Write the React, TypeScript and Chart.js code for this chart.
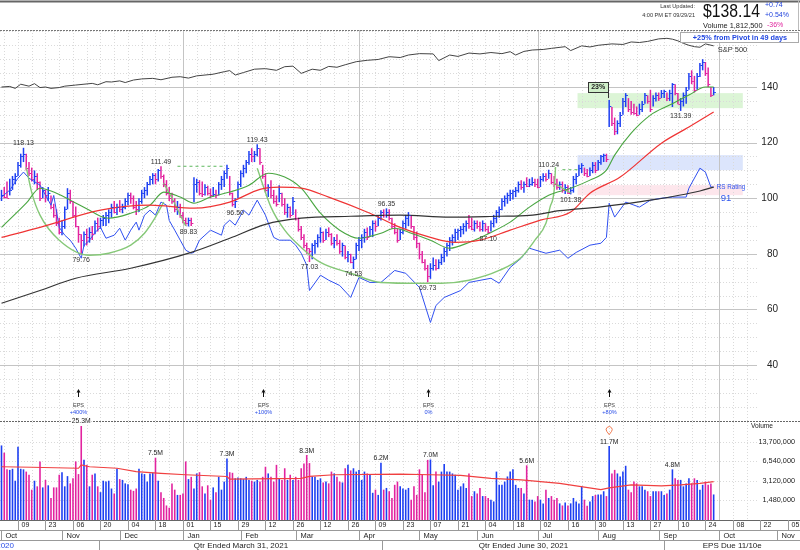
import React, { useEffect, useRef } from 'react';
import { Chart, registerables } from 'chart.js';

Chart.register(...registerables);

const FONT = '"Liberation Sans", Arial, Helvetica, sans-serif';
const UP_COLOR = '#1d3ff2';
const DOWN_COLOR = '#e2239f';

// visible range in trading days (day 0 = Oct 1 2020)
const X_MIN = -0.545;
const X_MAX = 290.4;
const PRICE_MIN = 19.5;
const PRICE_MAX = 160.5;
const VOL_MIN = 0.687;
const VOL_MAX = 29.5;

// ---------- daily bars ----------
const dayHighs = [
  103, 104, 106, 107, 108, 109, 113, 116, 118.13, 116,
  113, 111, 110, 109, 106, 104, 103, 104, 101, 98,
  96, 93, 92, 97, 103.6, 103, 99, 97, 90, 87,
  88, 89, 89.5, 90, 92, 93, 93, 94, 95, 96,
  98, 99, 98, 99.3, 98, 100, 102, 102, 101, 99,
  100, 103, 104, 105.8, 108, 109, 109, 110.5, 111.49, 108.5,
  106.5, 104, 102, 100, 99, 98, 95, 93, 93, 93,
  107.5, 107, 106.5, 106, 105, 104.5, 103.5, 104, 103, 105.8,
  108, 110, 112, 108, 102, 100, 106, 110, 112, 113.7,
  117, 118, 117, 119.43, 118, 112, 109, 105, 106.5, 103,
  101, 104.7, 102, 100, 98, 97, 100.4, 96, 93, 90,
  87, 84, 82, 83.8, 85, 87, 89.5, 88, 89, 89.5,
  87.4, 86, 87, 85, 84, 83, 81, 80, 79, 84,
  86, 87, 89, 89.5, 90, 92, 92, 94, 95.7, 96,
  96.35, 96, 93, 91, 89, 89, 92, 94, 95, 94,
  90, 88, 84, 81, 78, 76, 76.6, 78.7, 78, 78,
  80, 82.3, 84, 86, 87, 89, 89, 90, 91, 92,
  94, 93, 92, 92, 91.5, 92, 91, 90, 92, 94,
  95.7, 97, 100, 101, 102, 103, 103, 104, 106, 106.5,
  106, 107.5, 107, 107.5, 107, 107, 108, 109, 109, 110.24,
  109, 108, 107, 106, 106, 105, 104.7, 104, 108, 109,
  112, 112.6, 111, 110.5, 111, 113, 113, 113.7, 115.5, 116,
  116, 135.3, 132.8, 129, 128, 131, 136, 137.8, 136, 135,
  134, 133, 134, 135, 137.8, 137, 139, 137, 138, 138,
  138.9, 139, 138, 139, 141.4, 141, 137.8, 136, 138, 140,
  145, 146, 144, 145, 148.6, 150, 149, 147, 140, 140,
];
const dayLows = [
  99, 100, 100, 101, 103, 105, 108, 111, 113, 110,
  108, 106, 105, 103, 99, 100, 98.5, 99, 96, 93,
  90, 87, 86.7, 89, 96, 98, 93, 89.5, 84, 79.76,
  82.6, 83, 84, 85, 87, 88, 89, 90, 90, 91,
  93, 94.6, 94, 95, 94.6, 96, 97.5, 98, 96, 94,
  95, 98, 100, 101, 104.7, 105, 105, 106, 107, 104,
  101, 99, 98, 95, 94, 93, 91, 90, 89.83, 90,
  98.5, 102, 101, 100.4, 101, 101, 100, 100.5, 100, 101,
  103, 104, 107, 101, 97, 96.5, 100, 104, 107.5, 109,
  112, 113, 113, 115, 112, 107, 102, 100.4, 100, 98,
  97, 98.5, 97, 94, 93, 93, 94, 92, 88, 85,
  82, 80, 77.03, 78, 80, 82.3, 84, 84, 85, 86,
  83, 82, 83, 80, 79, 78, 77, 76.6, 74.53, 78,
  81, 82, 84, 85, 86, 86, 88, 90, 92, 93,
  93, 92, 89, 87, 84, 85, 87, 89, 90, 89,
  85, 82, 78, 76.6, 74, 69.73, 71, 74, 74, 74.5,
  76, 77, 79, 81, 83, 84, 85, 86, 87, 88,
  89, 88.5, 88, 89, 88, 88, 88, 87.1, 88, 89.5,
  91, 93, 95.7, 97, 98, 99, 99.5, 100.4, 102, 103,
  102, 104, 104, 104.5, 104, 103.6, 104, 106, 106, 107,
  105, 104, 103, 103, 102, 101.5, 101.5, 101.38, 102, 105,
  108, 109, 108, 107.5, 108, 109, 109, 110, 112, 113,
  113, 125.6, 126, 122.7, 123, 125.6, 130, 132.8, 131, 130,
  130, 129.5, 130, 131, 134, 134, 131, 133, 134.8, 135,
  136, 136, 135, 135, 132.8, 137, 133.8, 131.39, 133, 134,
  139, 141, 138, 139, 143.6, 146, 144, 140, 136.4, 137,
];
const dayCloses = [
  101, 100.5, 100, 103, 107, 108, 112, 115, 116, 111,
  109, 107, 108, 106, 100, 103, 101, 102, 97, 94,
  91, 88, 90, 96, 102, 99, 94, 90, 87, 85,
  87, 86, 88, 87, 91, 90, 92, 93, 94, 95,
  97, 95, 97, 96, 97, 99, 101, 100, 97, 96,
  99, 102, 103, 105, 107, 108.5, 107, 110, 108, 105,
  102, 100, 99, 96, 97, 94, 92, 91, 92, 91,
  105, 106, 102, 101.5, 104, 102, 101, 101.5, 101, 105,
  107, 109, 111, 102, 98, 99, 105, 109, 111, 113,
  116, 115, 116, 118, 113, 108, 103, 104, 101, 99,
  98, 102, 98, 95, 97, 94, 99, 93, 89, 86,
  83, 82, 81, 83, 84, 86, 88, 85, 88, 87,
  84, 85, 84, 81, 83, 79, 80, 77, 78, 83,
  85, 86, 88, 86, 89, 91, 90, 93, 95, 94,
  95, 93, 90, 88, 85, 88, 91, 93, 94, 90,
  86, 84, 80, 77, 75, 72, 75, 76, 75, 77,
  79, 81, 83, 85, 86, 88, 88.5, 89, 90, 91,
  90, 89, 91, 90, 89, 91, 89, 88, 91, 93,
  95, 96, 99, 100, 101, 102, 102.5, 103, 105, 104,
  105, 104.5, 105, 106, 105, 104, 107, 108, 107, 109,
  106, 105, 104, 105, 103, 104, 102, 103, 107, 108,
  111, 112, 109, 108, 110, 112, 110, 113, 115, 115.5,
  114, 133, 127, 124, 127, 130, 135, 137, 132, 131,
  130.5, 130, 132, 134, 137, 135, 132, 136, 137, 136,
  138, 138.5, 136, 138, 141, 138, 134, 135, 137, 139,
  144, 142, 139, 144, 148, 149, 145, 141, 137, 138.14,
];
// daily volume, millions of shares
const dayVolumes = [
  12, 9.1, 4.8, 4.7, 4.9, 3.1, 11.4, 4.9, 4.8, 4.4,
  3.9, 2.2, 3.1, 2.5, 6.5, 2.4, 3.2, 2.6, 1.6, 2.4,
  2.4, 3.9, 4.3, 2.5, 3.7, 2.8, 3.4, 6.5, 4.0, 25.3,
  6.9, 5.7, 2.5, 3.9, 4.1, 2.5, 2.0, 3.1, 3.0, 3.1,
  2.3, 1.9, 4.9, 3.3, 3.2, 2.8, 2.7, 2.2, 2.1, 2.3,
  4.9, 4.1, 4.0, 3.0, 4.1, 4.2, 7.5, 3.1, 2.0, 1.6,
  1.2, 1.1, 2.8, 2.2, 1.8, 1.8, 1.9, 6.5, 3.3, 3.6,
  2.3, 4.1, 4.3, 2.5, 1.9, 2.6, 1.5, 2.4, 2.0, 3.6,
  2.2, 3.0, 7.3, 4.3, 4.2, 3.4, 3.5, 3.4, 3.3, 3.6,
  3.2, 3.1, 3.0, 3.2, 3.0, 3.6, 5.3, 4.1, 3.6, 3.0,
  5.7, 3.4, 3.2, 5.0, 3.2, 3.9, 3.2, 3.6, 3.2, 5.0,
  6.0, 8.3, 6.1, 3.65, 3.6, 3.2, 3.4, 2.9, 3.0, 2.8,
  4.4, 4.1, 3.6, 3.0, 2.9, 5.0, 5.7, 4.6, 5.0, 4.4,
  4.7, 3.2, 4.4, 4.1, 3.9, 1.95, 2.2, 1.8, 6.2, 2.2,
  2.35, 2.07, 1.6, 2.65, 3.0, 2.5, 2.3, 2.2, 2.35, 1.5,
  2.5, 1.8, 4.8, 3.9, 2.0, 6.9, 7.0, 2.6, 4.4, 3.0,
  4.4, 5.9, 4.4, 4.4, 4.1, 3.9, 2.2, 2.5, 2.8, 2.35,
  4.1, 1.72, 2.07, 1.9, 2.35, 1.72, 1.72, 1.6, 1.5, 1.4,
  4.4, 2.65, 2.65, 3.0, 3.65, 4.4, 4.8, 2.65, 2.35, 2.35,
  1.9, 5.6, 1.5, 1.5, 1.4, 1.72, 1.5, 1.3, 2.2, 1.6,
  1.72, 1.5, 1.6, 1.3, 1.2, 1.35, 1.2, 1.3, 1.6, 1.4,
  1.3, 2.5, 1.5, 1.19, 1.4, 1.72, 1.8, 1.83, 1.83, 2.07,
  1.72, 11.7, 4.1, 4.7, 4.1, 3.65, 4.4, 5.5, 2.2, 2.0,
  3.0, 2.8, 2.5, 2.5, 2.2, 2.07, 1.72, 2.07, 2.07, 2.07,
  2.07, 1.8, 1.9, 2.2, 4.8, 3.4, 3.2, 3.2, 2.5, 2.8,
  3.4, 2.8, 3.4, 3.2, 2.2, 2.65, 3.0, 2.65, 2.8, 1.83,
];

// ---------- moving averages & relative lines ----------
const ma21Days = [0, 9, 14, 19, 25, 32, 36, 39, 47, 54, 59, 65, 70, 76, 83, 90, 97, 103, 109, 116, 123, 130, 138, 143, 149, 156, 163, 170, 178, 185, 192, 199, 207, 214, 220, 223, 229, 236, 243, 250, 256, 259];
const ma21Values = [89.5, 98.2, 103.6, 102.2, 99.3, 95.7, 93.5, 92.8, 94.6, 97.5, 102.2, 100.4, 98.2, 100.4, 102.2, 104.7, 109, 107.6, 103.6, 94.6, 88.5, 85.6, 87.4, 89.2, 87.4, 84.9, 82, 84.1, 87.7, 91.4, 96.8, 101.1, 103.6, 106.5, 110.1, 115.5, 123.4, 129.9, 133.5, 137.1, 140, 140];
const ma50Days = [0, 14, 36, 54, 70, 83, 94, 101, 109, 119, 134, 145, 156, 165, 174, 185, 196, 207, 214, 225, 240, 250, 259];
const ma50Values = [85.9, 89.5, 95.7, 97.5, 96.4, 98.6, 103.2, 104, 103.6, 100.4, 94.6, 89.5, 85.9, 84.1, 84.9, 88.5, 92.1, 95, 101.8, 107.6, 119.8, 125.6, 131];
const ma200Days = [0, 14, 27, 47, 69, 83, 96, 109, 127, 145, 163, 181, 192, 203, 218, 236, 254, 259];
const ma200Values = [62.2, 66.8, 71.2, 74.8, 80.5, 85.6, 90.6, 92.8, 93.5, 93.9, 93.2, 93.5, 93.8, 95.5, 96.9, 99.3, 102.6, 104];

const rsDays = [0, 3, 6, 8, 10, 14, 18, 19, 21, 23, 25, 27, 29, 30, 32, 34, 36, 38, 41, 43, 45, 47, 49, 50, 52, 54, 56, 58, 60, 61, 63, 65, 67, 69, 70, 72, 74, 76, 80, 81, 83, 85, 87, 88, 90, 93, 96, 98, 99, 101, 105, 107, 109, 111, 112, 116, 119, 123, 127, 130, 134, 138, 143, 147, 152, 156, 158, 161, 167, 170, 178, 181, 185, 189, 192, 198, 203, 206, 209, 214, 218, 220, 221, 223, 227, 232, 236, 240, 244, 249, 250, 254, 256, 258, 259];
const rsValues = [100.4, 102.9, 107.2, 109.4, 107.2, 104.7, 97.5, 101, 89.5, 86.7, 84.9, 82, 78.4, 83, 84.9, 87.7, 89.5, 85.6, 86.7, 89.2, 84.9, 88.5, 91.4, 88.5, 93.9, 95.7, 93.9, 98.6, 97.5, 92, 88.5, 84.9, 81.3, 80.2, 80.5, 84.9, 86.7, 88.5, 86.7, 90.3, 92.1, 90.3, 93.9, 95.7, 93.9, 99.3, 93.9, 88.5, 85.9, 84.9, 84.9, 83.1, 80.2, 75.9, 66.8, 72.3, 70.5, 68.6, 64.3, 71.5, 69.7, 69.7, 74, 73, 67.9, 55.3, 61.4, 64.3, 66.8, 69.7, 71.2, 69.4, 75.1, 78.4, 82, 80.2, 81.3, 78.4, 80.5, 83.1, 83.8, 85.9, 98.2, 93.2, 98.6, 96.8, 99.3, 100, 100.4, 100.4, 103.6, 110.8, 109.4, 104, 104];

const spxDays = [0, 3, 5, 7, 10, 12, 14, 16, 18, 21, 23, 27, 30, 33, 35, 38, 40, 43, 45, 48, 51, 55, 58, 62, 65, 68, 71, 74, 77, 81, 83, 85, 88, 92, 96, 100, 103, 106, 109, 113, 116, 119, 122, 125, 129, 133, 137, 141, 145, 148, 152, 157, 159, 163, 166, 170, 174, 178, 182, 185, 187, 190, 193, 197, 200, 205, 207, 211, 214, 217, 222, 226, 229, 232, 235, 239, 242, 244, 246, 248, 250, 252, 254, 256, 259];
const spxValues = [140, 140.2, 139.5, 141, 140.3, 141.2, 139.8, 140, 139.5, 139.8, 140.3, 140.7, 141, 141.3, 140.8, 141.9, 141.8, 142.2, 141.6, 142.5, 142.9, 143.1, 142.6, 143.5, 143.7, 143.2, 144, 144.3, 144.6, 145.5, 145.9, 144.3, 145.2, 146.4, 146.6, 146, 147.3, 147.5, 144.9, 146.4, 146, 147.4, 147.1, 148, 149.1, 149.6, 149.9, 150.9, 150.6, 151.5, 152, 151.9, 149.5, 151.5, 151, 152.2, 151.9, 152.4, 152, 152.7, 151.5, 152.8, 153.3, 153.5, 153.9, 154.5, 153.1, 154.8, 154.4, 155, 155.5, 155.3, 156.2, 156, 156.4, 157.3, 157.5, 157.2, 156.6, 155.7, 155, 154.5, 154.3, 155.5, 154.8];

// base-pattern curves
const cupADays = [9, 11, 14, 21, 32, 39, 47, 52, 56, 59];
const cupAValues = [111.2, 102, 93.9, 84.9, 79.5, 80.2, 83.1, 87.4, 93.2, 98.6];
const cupBDays = [59, 62, 65, 67];
const cupBValues = [105.4, 100, 94, 90];
const cupCDays = [93, 98, 103, 109, 116, 127, 138, 152, 160, 170, 181, 189, 194, 198, 199.5, 201, 201.5];
const cupCValues = [110.8, 96.8, 88.5, 82.3, 76.9, 73, 69.7, 69.4, 69.4, 70.5, 74, 78.7, 84.9, 91, 96.8, 102.9, 111.2];
const cupDDays = [201, 207];
const cupDValues = [105.4, 101.8];
const pivotADays = [64, 81];
const pivotAValue = 111.49;
const pivotBDays = [204, 209.5];
const pivotBValue = 110.24;

// volume 50-day average (millions)
const volAvgDays = [0, 11, 28, 29, 32, 42, 49, 58, 67, 82, 83, 109, 112, 121, 145, 156, 167, 178, 189, 203, 218, 221, 229, 240, 247, 254, 259];
const volAvgValues = [5.3, 5.2, 5.0, 5.7, 5.3, 5.0, 4.4, 4.1, 3.9, 3.65, 3.3, 3.4, 3.65, 3.9, 4.0, 3.9, 3.8, 3.4, 3.2, 2.8, 2.2, 2.35, 2.65, 2.55, 2.65, 2.8, 3.0];

// ---------- annotations ----------
const priceTicks = [40, 60, 80, 100, 120, 140];
const volumeTicks = [13.7, 6.54, 3.12, 1.48];
const volumeTickText = ['13,700,000', '6,540,000', '3,120,000', '1,480,000'];
const priceLabelDays = [8, 29, 58, 68, 85, 93, 112, 128, 140, 155, 177, 199, 207, 247];
const priceLabelIsHigh = [true, false, true, false, false, true, false, false, true, false, false, true, false, false];
const volLabelDays = [29, 56, 82, 111, 138, 156, 191, 221, 244];
const pinDay = 221;
const epsDays = [28, 95, 155, 221];
const epsChanges = ['+400%', '+100%', '0%', '+80%'];
const gapDay = 221;
const gapText = '23%';
const zoneFromDay = 209.5;
const zoneToDay = 269.6;
const zoneLows = [132.4, 110.1, 101.1];
const zoneHighs = [137.8, 115.5, 104.7];
const zoneColors = ['rgba(196,238,186,0.6)', 'rgba(196,212,250,0.6)', 'rgba(252,214,224,0.6)'];
const rsRating = '91';

const dateTickDays = [6, 16, 26, 36, 46, 56, 66, 76, 86, 96, 106, 116, 126, 136, 146, 156, 166, 176, 186, 196, 206, 216, 226, 236, 246, 256, 266, 276, 286];
const dateTickLabels = ['09', '23', '06', '20', '04', '18', '01', '15', '29', '12', '26', '12', '26', '09', '23', '07', '21', '04', '18', '02', '16', '30', '13', '27', '10', '24', '08', '22', '05'];
const monthStartDays = [0, 22, 43, 66, 87, 107, 130, 152, 173, 195, 217, 239, 261, 282];
const monthLabels = ['Oct', 'Nov', 'Dec', 'Jan', 'Feb', 'Mar', 'Apr', 'May', 'Jun', 'Jul', 'Aug', 'Sep', 'Oct', 'Nov'];
const quarterStartDays = [66, 130, 195, 261];
const qtrSplitDays = [35.5, 138.4, 240.9];
const qtrLabels = ['Qtr Ended March 31, 2021', 'Qtr Ended June 30, 2021', 'EPS Due 11/10e'];
const prevQtrLabel = '2020';

const lastPrice = 138.14;
const headerUpdated = ['Last Updated:', '4:00 PM ET 09/29/21'];
const headerVolume = 'Volume 1,812,500';
const headerChanges = ['+0.74', '+0.54%', '-36%'];
const pivotNote = '+25% from Pivot in 49 days';

// ---------- helpers ----------
const days = dayCloses.map((_, i) => i);
const barColors = dayCloses.map((c, i) => (i === 0 || c >= dayCloses[i - 1] ? UP_COLOR : DOWN_COLOR));
const pts = (xs: number[], ys: number[]) => xs.map((x, i) => ({ x, y: ys[i] }));
const al = (v: number) => Math.round(v) + 0.5;

function seg(ctx: any, x0: number, y0: number, x1: number, y1: number) {
  ctx.beginPath();
  ctx.moveTo(x0, y0);
  ctx.lineTo(x1, y1);
  ctx.stroke();
}
function txt(ctx: any, s: string, x: number, y: number, size: number, color: string, align = 'left', weight = 'normal', baseline = 'middle') {
  ctx.font = `${weight} ${size}px ${FONT}`;
  ctx.fillStyle = color;
  ctx.textAlign = align;
  ctx.textBaseline = baseline;
  ctx.fillText(s, x, y);
}

function lineDs(label: string, data: any[], color: string, width: number, extra: any = {}) {
  return { type: 'line', label, data, borderColor: color, borderWidth: width, pointRadius: 0, fill: false, tension: 0, ...extra };
}

const pricePlugin = {
  id: 'pricePanel',
  beforeDatasetsDraw(chart: any) {
    const { ctx, chartArea: a } = chart;
    const xs = chart.scales.x;
    const ys = chart.scales.y;
    const gridRight = a.right - 43;
    ctx.save();
    for (let i = 0; i < zoneLows.length; i++) {
      const x0 = xs.getPixelForValue(zoneFromDay);
      const x1 = xs.getPixelForValue(zoneToDay);
      const y0 = ys.getPixelForValue(zoneHighs[i]);
      const y1 = ys.getPixelForValue(zoneLows[i]);
      ctx.fillStyle = zoneColors[i];
      ctx.fillRect(x0, y0, x1 - x0, y1 - y0);
    }
    ctx.lineWidth = 1;
    ctx.strokeStyle = '#dadada';
    ctx.setLineDash([1, 2]);
    for (let v = 25; v < PRICE_MAX; v += 5) {
      if (priceTicks.includes(v)) continue;
      const y = al(ys.getPixelForValue(v));
      seg(ctx, a.left, y, gridRight, y);
    }
    for (let d = 1; xs.getPixelForValue(d) < gridRight; d += 5) {
      const x = al(xs.getPixelForValue(d));
      seg(ctx, x, a.top, x, a.bottom);
    }
    ctx.setLineDash([]);
    ctx.strokeStyle = '#c4c4c4';
    priceTicks.forEach((v) => {
      const y = al(ys.getPixelForValue(v));
      seg(ctx, a.left, y, gridRight, y);
    });
    quarterStartDays.forEach((d) => {
      const x = al(xs.getPixelForValue(d));
      seg(ctx, x, a.top, x, a.bottom);
    });
    ctx.restore();
  },
  afterDatasetsDraw(chart: any) {
    const { ctx } = chart;
    const ys = chart.scales.y;
    const meta = chart.getDatasetMeta(chart.data.datasets.length - 1);
    ctx.save();
    ctx.lineWidth = 1;
    meta.data.forEach((el: any, i: number) => {
      const y = al(ys.getPixelForValue(dayCloses[i]));
      ctx.strokeStyle = barColors[i];
      seg(ctx, el.x + 0.5, y, el.x + 2.2, y);
    });
    ctx.restore();
  },
  afterDraw(chart: any) {
    const { ctx, chartArea: a } = chart;
    const xs = chart.scales.x;
    const ys = chart.scales.y;
    ctx.save();
    // header
    ctx.fillStyle = '#666';
    ctx.fillRect(0, 0.5, 800, 2);
    ctx.strokeStyle = '#bbb';
    ctx.lineWidth = 1;
    seg(ctx, 798.5, 0, 798.5, a.top);
    txt(ctx, headerUpdated[0], 695, 6, 5.6, '#333', 'right');
    txt(ctx, headerUpdated[1], 695, 15.5, 5.6, '#333', 'right');
    ctx.save();
    ctx.translate(703, 12.5);
    ctx.scale(0.9, 1);
    txt(ctx, `$${lastPrice.toFixed(2)}`, 0, 0, 17.5, '#111', 'left');
    ctx.restore();
    txt(ctx, headerVolume, 703, 25.5, 7.4, '#222', 'left');
    txt(ctx, headerChanges[0], 765, 5.5, 7, '#2244dd', 'left');
    txt(ctx, headerChanges[1], 765, 15.5, 7, '#2244dd', 'left');
    txt(ctx, headerChanges[2], 767, 25.5, 7, '#e0259e', 'left');
    // panel top border
    ctx.strokeStyle = '#777';
    ctx.setLineDash([2, 1]);
    seg(ctx, a.left, a.top + 0.5, a.right, a.top + 0.5);
    ctx.setLineDash([]);
    // pivot note box
    ctx.fillStyle = '#fff';
    ctx.fillRect(680, 32, 119, 11);
    ctx.strokeStyle = '#aaa';
    ctx.strokeRect(680.5, 32.5, 118, 10);
    txt(ctx, pivotNote, 740, 38, 7.3, '#2046e0', 'center', 'bold');
    // price axis labels
    priceTicks.forEach((v) => txt(ctx, String(v), a.right - 22, ys.getPixelForValue(v), 10, '#222', 'right'));
    // high / low labels
    priceLabelDays.forEach((d, i) => {
      const hi = priceLabelIsHigh[i];
      const v = hi ? dayHighs[d] : dayLows[d];
      const x = xs.getPixelForValue(d);
      const y = ys.getPixelForValue(v);
      txt(ctx, v.toFixed(2), x, hi ? y - 1 : y + 2, 7, '#333', 'center', 'normal', hi ? 'bottom' : 'top');
    });
    // S&P and RS labels
    const spxX = xs.getPixelForValue(spxDays[spxDays.length - 1]);
    const spxY = ys.getPixelForValue(spxValues[spxValues.length - 1]);
    txt(ctx, 'S&P 500', spxX + 4, spxY + 4, 7.5, '#333', 'left');
    const rsX = xs.getPixelForValue(rsDays[rsDays.length - 1]);
    const rsY = ys.getPixelForValue(rsValues[rsValues.length - 1]);
    txt(ctx, 'RS Rating', rsX + 3, rsY, 6.3, '#2f55ee', 'left');
    txt(ctx, rsRating, rsX + 7, rsY + 11, 9.5, '#2f55ee', 'left');
    // gap percentage box
    const gx = xs.getPixelForValue(gapDay);
    const gy = ys.getPixelForValue(dayHighs[gapDay]);
    ctx.fillStyle = '#cfeec8';
    ctx.fillRect(gx - 21, gy - 18, 20, 10);
    ctx.strokeStyle = '#333';
    ctx.strokeRect(al(gx - 21), al(gy - 18), 20, 10);
    seg(ctx, al(gx - 1), gy - 18, al(gx - 1), gy - 2);
    txt(ctx, gapText, gx - 11, gy - 12.5, 7, '#222', 'center', 'bold');
    // EPS markers
    epsDays.forEach((d, i) => {
      const x = Math.round(xs.getPixelForValue(d)) + 0.5;
      const yb = a.bottom;
      ctx.strokeStyle = '#111';
      ctx.lineWidth = 1;
      seg(ctx, x, yb - 25, x, yb - 30);
      ctx.fillStyle = '#111';
      ctx.beginPath();
      ctx.moveTo(x, yb - 33);
      ctx.lineTo(x - 2, yb - 29.5);
      ctx.lineTo(x + 2, yb - 29.5);
      ctx.closePath();
      ctx.fill();
      txt(ctx, 'EPS', x, yb - 17, 5.6, '#444', 'center');
      txt(ctx, epsChanges[i], x, yb - 10, 5.6, '#2a4ee8', 'center');
    });
    ctx.restore();
  },
};

const volumePlugin = {
  id: 'volumePanel',
  beforeDatasetsDraw(chart: any) {
    const { ctx, chartArea: a } = chart;
    const xs = chart.scales.x;
    const ys = chart.scales.y;
    const gridRight = a.right - 43;
    ctx.save();
    ctx.lineWidth = 1;
    ctx.strokeStyle = '#dadada';
    ctx.setLineDash([1, 2]);
    volumeTicks.forEach((v) => {
      const y = al(ys.getPixelForValue(v));
      seg(ctx, a.left, y, gridRight, y);
    });
    for (let d = 1; xs.getPixelForValue(d) < gridRight; d += 5) {
      const x = al(xs.getPixelForValue(d));
      seg(ctx, x, a.top, x, a.bottom);
    }
    ctx.setLineDash([]);
    ctx.strokeStyle = '#c4c4c4';
    quarterStartDays.forEach((d) => {
      const x = al(xs.getPixelForValue(d));
      seg(ctx, x, a.top, x, a.bottom);
    });
    ctx.strokeStyle = '#666';
    ctx.setLineDash([2, 1]);
    seg(ctx, a.left, a.top - 0.5, a.right, a.top - 0.5);
    ctx.restore();
  },
  afterDraw(chart: any) {
    const { ctx, chartArea: a } = chart;
    const xs = chart.scales.x;
    const ys = chart.scales.y;
    ctx.save();
    txt(ctx, 'Volume', 762, a.top + 4.5, 6.6, '#222', 'center');
    volumeTicks.forEach((v, i) => txt(ctx, volumeTickText[i], 795, ys.getPixelForValue(v), 7.3, '#222', 'right'));
    // volume value labels
    volLabelDays.forEach((d) => {
      const x = xs.getPixelForValue(d);
      const y = ys.getPixelForValue(dayVolumes[d]);
      const s = `${dayVolumes[d].toFixed(1)}M`;
      ctx.font = `6.8px ${FONT}`;
      const w = ctx.measureText(s).width;
      ctx.fillStyle = '#fff';
      ctx.fillRect(x - w / 2 - 1, y - 8, w + 2, 6.5);
      txt(ctx, s, x, y - 1, 6.8, '#222', 'center', 'normal', 'bottom');
    });
    // marker pin above the breakout volume
    const px = xs.getPixelForValue(pinDay);
    const py = ys.getPixelForValue(dayVolumes[pinDay]) - 14;
    ctx.strokeStyle = '#f07a50';
    ctx.lineWidth = 1;
    ctx.beginPath();
    ctx.arc(px, py - 2.5, 3, Math.PI * 0.8, Math.PI * 2.2);
    ctx.lineTo(px, py + 2.5);
    ctx.closePath();
    ctx.stroke();
    // date rows
    const b = a.bottom;
    ctx.strokeStyle = '#666';
    seg(ctx, 0, al(b), 800, al(b));
    ctx.strokeStyle = '#999';
    seg(ctx, 0, al(b + 10), 800, al(b + 10));
    seg(ctx, 0, al(b + 20), 800, al(b + 20));
    dateTickDays.forEach((d, i) => {
      const x = al(xs.getPixelForValue(d));
      seg(ctx, x, b, x, b + 10);
      txt(ctx, dateTickLabels[i], x + 3, b + 5.5, 7, '#222', 'left');
    });
    monthStartDays.forEach((d, i) => {
      const x = al(xs.getPixelForValue(d));
      seg(ctx, x, b + 10, x, b + 20);
      txt(ctx, monthLabels[i], x + 4, b + 15.5, 7.5, '#222', 'left');
    });
    const splits = qtrSplitDays.map((d) => al(xs.getPixelForValue(d)));
    splits.forEach((x) => seg(ctx, x, b + 20, x, b + 30));
    const bounds = [...splits, a.right];
    qtrLabels.forEach((s, i) => txt(ctx, s, (bounds[i] + bounds[i + 1]) / 2, b + 25.5, 8, '#222', 'center'));
    txt(ctx, prevQtrLabel, 14, b + 25.5, 8, '#2a4ee8', 'right');
    ctx.restore();
  },
};

export default function App() {
  const priceRef = useRef<HTMLCanvasElement>(null);
  const volRef = useRef<HTMLCanvasElement>(null);

  useEffect(() => {
    const xScale = { type: 'linear', min: X_MIN, max: X_MAX, display: false, offset: false, grid: { display: false, offset: false } };
    const common = { responsive: false, animation: false, events: [], plugins: { legend: { display: false }, tooltip: { enabled: false } } };

    const priceChart = new Chart(priceRef.current as HTMLCanvasElement, {
      type: 'line',
      data: {
        datasets: [
          lineDs('S&P 500', pts(spxDays, spxValues), '#444', 1),
          lineDs('200-day', pts(ma200Days, ma200Values), '#333', 1.2, { cubicInterpolationMode: 'monotone' }),
          lineDs('50-day', pts(ma50Days, ma50Values), '#ef3434', 1.2, { cubicInterpolationMode: 'monotone' }),
          lineDs('21-day', pts(ma21Days, ma21Values), '#49a641', 1.1, { cubicInterpolationMode: 'monotone' }),
          lineDs('Base A', pts(cupADays, cupAValues), '#86c878', 1.4, { cubicInterpolationMode: 'monotone' }),
          lineDs('Base B', pts(cupBDays, cupBValues), '#86c878', 1.4, { cubicInterpolationMode: 'monotone' }),
          lineDs('Base C', pts(cupCDays, cupCValues), '#86c878', 1.4, { cubicInterpolationMode: 'monotone' }),
          lineDs('Base D', pts(cupDDays, cupDValues), '#86c878', 1.4),
          lineDs('Pivot A', pivotADays.map((x) => ({ x, y: pivotAValue })), '#5cb85c', 1, { borderDash: [3, 3] }),
          lineDs('Pivot B', pivotBDays.map((x) => ({ x, y: pivotBValue })), '#5cb85c', 1, { borderDash: [3, 3] }),
          lineDs('RS line', pts(rsDays, rsValues), '#3050f0', 1),
          {
            type: 'bar',
            label: 'Price',
            data: days.map((i) => ({ x: i, y: [dayLows[i], dayHighs[i]] })),
            backgroundColor: barColors,
            borderWidth: 0,
            barThickness: 1.5,
            inflateAmount: 0,
          },
        ] as any,
      },
      options: {
        ...common,
        layout: { padding: { top: 30, left: 0, right: 0, bottom: 0 } },
        scales: {
          x: xScale,
          y: { type: 'linear', min: PRICE_MIN, max: PRICE_MAX, display: false, grid: { display: false } },
        },
      } as any,
      plugins: [pricePlugin],
    } as any);

    const volumeChart = new Chart(volRef.current as HTMLCanvasElement, {
      type: 'line',
      data: {
        datasets: [
          lineDs('Avg volume', pts(volAvgDays, volAvgValues), '#f04040', 1.2),
          {
            type: 'bar',
            label: 'Volume',
            data: days.map((i) => ({ x: i, y: dayVolumes[i] })),
            backgroundColor: barColors,
            borderWidth: 0,
            barThickness: 1.6,
            inflateAmount: 0,
          },
        ] as any,
      },
      options: {
        ...common,
        layout: { padding: { top: 22, left: 0, right: 0, bottom: 30 } },
        scales: {
          x: xScale,
          y: { type: 'logarithmic', min: VOL_MIN, max: VOL_MAX, display: false, grid: { display: false } },
        },
      } as any,
      plugins: [volumePlugin],
    } as any);

    return () => {
      priceChart.destroy();
      volumeChart.destroy();
    };
  }, []);

  return (
    <div style={{ position: 'absolute', left: 0, top: 0, width: 800, height: 550, background: '#fff', overflow: 'hidden' }}>
      <canvas ref={priceRef} width={800} height={422} style={{ position: 'absolute', left: 0, top: 0 }} />
      <canvas ref={volRef} width={800} height={150} style={{ position: 'absolute', left: 0, top: 400 }} />
    </div>
  );
}
